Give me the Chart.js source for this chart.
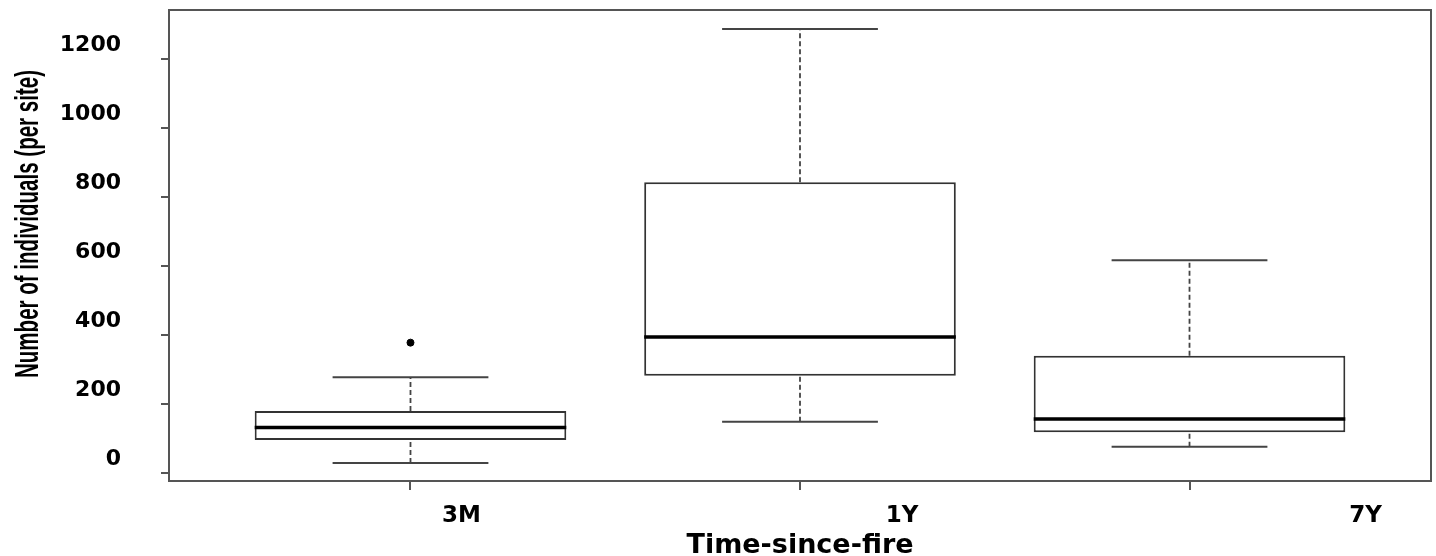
<!DOCTYPE html>
<html>

<head>
  <title>Time-since-fire boxplot</title>
  <script src="https://cdn.jsdelivr.net/npm/chart.js"></script>
  <style>
    body { margin: 0; background: #fff; }
  </style>
</head>

<body>
  <canvas id="boxChart" width="1436" height="556"></canvas>
  <script>
    // values
    const categories = ['3M', '1Y', '7Y'];
    const whiskerLow = [30, 150, 77];
    const q1 = [97, 283, 119];
    const median = [133, 395, 158];
    const q3 = [181, 844, 341];
    const whiskerHigh = [279, 1288, 618];
    const outliers = [[379], [], []];
    const yTicks = [0, 200, 400, 600, 800, 1000, 1200];
    const yTitle = 'Number of individuals (per site)';

    // label nudges as placed in the original figure (pixels)
    const xLabelShift = [51, 102, 176];

    const pos = categories.map((c, i) => i + 1);

    function segments(half, lo, hi) {
      const pts = [];
      pos.forEach((p, i) => {
        pts.push({ x: p - half, y: lo[i] }, { x: p + half, y: hi[i] }, { x: p, y: null });
      });
      return pts;
    }
    const whiskerPts = [];
    pos.forEach((p, i) => {
      whiskerPts.push({ x: p, y: whiskerLow[i] }, { x: p, y: q1[i] }, { x: p, y: null });
      whiskerPts.push({ x: p, y: q3[i] }, { x: p, y: whiskerHigh[i] }, { x: p, y: null });
    });
    const capPts = segments(0.2, whiskerLow, whiskerLow).concat(segments(0.2, whiskerHigh, whiskerHigh));
    const medianPts = segments(0.4, median, median);
    const outlierPts = [];
    outliers.forEach((list, i) => list.forEach(v => outlierPts.push({ x: pos[i], y: v })));

    const frame = {
      id: 'frame',
      afterDraw(chart) {
        const { ctx, chartArea: a, scales } = chart;
        ctx.save();
        ctx.strokeStyle = '#555';
        ctx.lineWidth = 2;
        ctx.strokeRect(a.left, a.top, a.right - a.left, a.bottom - a.top);
        ctx.fillStyle = '#000';
        ctx.font = 'bold 23px "DejaVu Sans"';
        ctx.textAlign = 'center';
        ctx.textBaseline = 'middle';
        categories.forEach((c, i) => {
          ctx.fillText(c, scales.x.getPixelForValue(pos[i]) + xLabelShift[i], 516);
        });
        // narrow bold y title, squeezed to the length it has in the figure
        ctx.translate(29, 224);
        ctx.rotate(-Math.PI / 2);
        ctx.font = 'bold 34px "Liberation Sans"';
        const w = ctx.measureText(yTitle).width;
        ctx.scale(308 / w, 1);
        ctx.fillText(yTitle, 0, 0);
        ctx.restore();
      }
    };

    const ctx = document.getElementById('boxChart').getContext('2d');
    new Chart(ctx, {
      type: 'bar',
      data: {
        datasets: [{
          type: 'line',
          data: medianPts,
          borderColor: '#000',
          borderWidth: 3.5,
          pointRadius: 0,
          order: 0
        }, {
          type: 'line',
          data: capPts,
          borderColor: '#444',
          borderWidth: 2,
          pointRadius: 0,
          order: 1
        }, {
          type: 'line',
          data: whiskerPts,
          borderColor: '#444',
          borderWidth: 1.8,
          borderDash: [5, 3],
          pointRadius: 0,
          order: 2
        }, {
          type: 'scatter',
          data: outlierPts,
          backgroundColor: '#000',
          borderColor: '#000',
          pointRadius: 3.5,
          order: 3
        }, {
          type: 'bar',
          data: pos.map((p, i) => ({ x: p, y: [q1[i], q3[i]] })),
          backgroundColor: '#fff',
          borderColor: '#333',
          borderWidth: 2,
          borderSkipped: false,
          barPercentage: 1,
          categoryPercentage: 0.8,
          order: 4
        }]
      },
      options: {
        responsive: false,
        animation: false,
        layout: { padding: { top: 10, right: 5, left: 0, bottom: 0 } },
        plugins: {
          legend: { display: false },
          tooltip: { enabled: false }
        },
        scales: {
          x: {
            type: 'linear',
            min: 0.38,
            max: 3.62,
            offset: false,
            afterBuildTicks: s => { s.ticks = pos.map(v => ({ value: v })); },
            afterFit: s => { s.height = 75; s.paddingLeft = 0; s.paddingRight = 0; },
            border: { display: false },
            grid: { offset: false, drawOnChartArea: false, tickLength: 9, color: '#555', lineWidth: 2 },
            ticks: { display: false },
            title: {
              display: true,
              text: 'Time-since-fire',
              color: '#000',
              font: { family: 'DejaVu Sans', weight: 'bold', size: 27, lineHeight: 1 },
              padding: { top: 0, bottom: -3 }
            }
          },
          y: {
            min: -22,
            max: 1343,
            afterBuildTicks: s => { s.ticks = yTicks.map(v => ({ value: v })); },
            afterFit: s => { s.width = 169; s.paddingTop = 0; s.paddingBottom = 0; },
            border: { display: false },
            grid: { drawOnChartArea: false, tickLength: 8, color: '#555', lineWidth: 2 },
            ticks: {
              color: '#000',
              font: { family: 'DejaVu Sans', weight: 'bold', size: 22 },
              padding: 40,
              labelOffset: -14,
              callback: v => String(v)
            }
          }
        }
      },
      plugins: [frame]
    });
  </script>
</body>

</html>
